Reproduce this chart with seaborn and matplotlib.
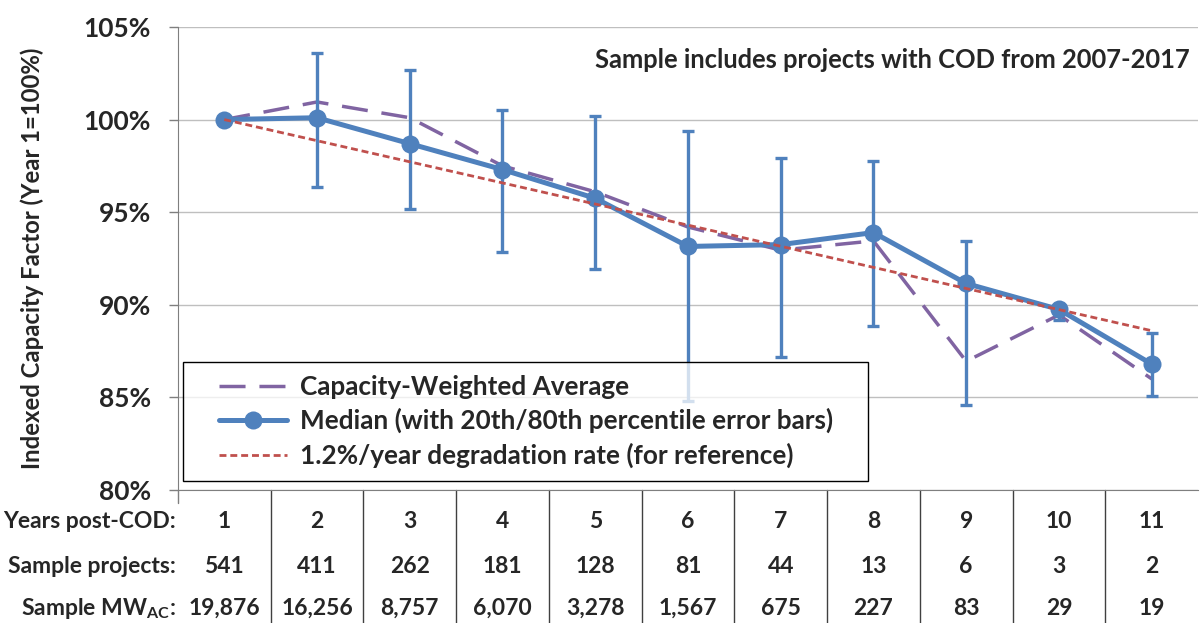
import matplotlib
matplotlib.use("Agg")
import matplotlib.pyplot as plt
import matplotlib.patches as mpatches
import matplotlib.transforms as mtransforms
import numpy as np
import pandas as pd
import seaborn as sns

# Data
years = [1, 2, 3, 4, 5, 6, 7, 8, 9, 10, 11]
median = [100.0, 100.1, 98.7, 97.3, 95.75, 93.15, 93.25, 93.9, 91.15, 89.75, 86.8]
p80 = [100.0, 103.6, 102.65, 100.5, 100.2, 99.4, 97.95, 97.75, 93.45, 89.9, 88.45]
p20 = [100.0, 96.35, 95.15, 92.85, 91.95, 84.8, 87.2, 88.85, 84.6, 89.2, 85.1]
cap_weighted = [100.0, 100.95, 100.1, 97.5, 96.1, 94.2, 92.95, 93.45, 86.95, 89.45, 86.0]
ref_years = [1, 11]
ref_rate = [100.0, 88.6]
sample_projects = ["541", "411", "262", "181", "128", "81", "44", "13", "6", "3", "2"]
sample_mw = ["19,876", "16,256", "8,757", "6,070", "3,278", "1,567", "675", "227", "83", "29", "19"]
ytick_vals = [80, 85, 90, 95, 100, 105]

BLUE = "#4F81BD"
PURPLE = "#8064A2"
RED = "#C0504D"

sns.set_style("white")
plt.rcParams["font.family"] = ["Lato", "DejaVu Sans"]
plt.rcParams["font.weight"] = "bold"
plt.rcParams["mathtext.fontset"] = "custom"
plt.rcParams["mathtext.rm"] = "Lato"
plt.rcParams["mathtext.bf"] = "Lato:bold"

df = pd.DataFrame({"year": years, "median": median, "cap": cap_weighted})
ref_df = pd.DataFrame({"year": ref_years, "rate": ref_rate})

fig = plt.figure(figsize=(12.02, 6.23), dpi=100)
ax = fig.add_axes([0.148, 0.2135, 0.8487, 0.7432])

sns.lineplot(data=df, x="year", y="cap", ax=ax, color=PURPLE, lw=2.5,
             zorder=2, label="Capacity-Weighted Average")
ax.lines[-1].set_dashes([7.5, 4])

ax.errorbar(years, median,
            yerr=[np.array(median) - np.array(p20), np.array(p80) - np.array(median)],
            fmt="none", ecolor=BLUE, elinewidth=2.4, capsize=4.5, capthick=2.4, zorder=3)
sns.lineplot(data=df, x="year", y="median", ax=ax, color=BLUE, lw=3.6,
             marker="o", markersize=13, markeredgewidth=0, zorder=4,
             label="Median (with 20th/80th percentile error bars)")
sns.lineplot(data=ref_df, x="year", y="rate", ax=ax, color=RED, lw=2,
             zorder=4.5, label="1.2%/year degradation rate (for reference)")
ax.lines[-1].set_dashes([2.5, 1.4])

ax.set_xlim(0.5, 11.5)
ax.set_ylim(80, 105)
ax.set_yticks(ytick_vals)
ax.set_yticklabels([f"{v}%" for v in ytick_vals], fontsize=19, fontweight="bold")
ax.set_xticks([])
ax.set_xlabel("")
ax.set_ylabel("Indexed Capacity Factor (Year 1=100%)", fontsize=17.2, fontweight="bold")
ax.yaxis.set_label_coords(-0.131, 0.5)
ax.grid(axis="y", color="#BFBFBF", lw=1)
ax.tick_params(axis="y", left=True, length=6.5, width=1, color="#7F7F7F", pad=13)
for side in ["top", "right"]:
    ax.spines[side].set_visible(False)
ax.spines["left"].set_color("#7F7F7F")
ax.spines["bottom"].set_color("#7F7F7F")
ax.plot([0, 0], [0, -0.028], transform=ax.transAxes, color="#7F7F7F", lw=1, clip_on=False)

ax.text(0.992, 0.929, "Sample includes projects with COD from 2007-2017",
        transform=ax.transAxes, ha="right", va="center", fontsize=18.4, fontweight="bold")

# legend box drawn separately so it can be translucent over the error bar
box = mpatches.Rectangle((0.0049, 0.0194), 0.6716, 0.257, transform=ax.transAxes,
                         facecolor="white", alpha=0.75, edgecolor="none", zorder=5)
ax.add_patch(box)
edge = mpatches.Rectangle((0.0049, 0.0194), 0.6716, 0.257, transform=ax.transAxes,
                          facecolor="none", edgecolor="black", lw=1, zorder=5.5)
ax.add_patch(edge)
leg = ax.legend(loc="center left", bbox_to_anchor=(0.0402, 0.148), fontsize=18.8,
                frameon=False, handlelength=2.6, handletextpad=0.5, borderpad=0,
                labelspacing=0.35, borderaxespad=0)
leg.set_zorder(6)

# table under the plot
trans = mtransforms.blended_transform_factory(ax.transData, ax.transAxes)
row_y = [-0.067, -0.166, -0.255]
row_labels = ["Years post-COD:", "Sample projects:", r"Sample MW$_{\mathbf{AC}}$:"]
rows = [[str(y) for y in years], sample_projects, sample_mw]
for ry, lab, vals in zip(row_y, row_labels, rows):
    ax.text(-0.002, ry, lab, transform=ax.transAxes, ha="right", va="center",
            fontsize=16.5, fontweight="bold")
    for x, v in zip(years, vals):
        ax.text(x, ry, v, transform=trans, ha="center", va="center",
                fontsize=16.5, fontweight="bold")
for x in years[:-1]:
    ax.plot([x + 0.5, x + 0.5], [0, -0.29], transform=trans, color="#404040",
            lw=1, clip_on=False)

fig.savefig("out.png", dpi=100)
